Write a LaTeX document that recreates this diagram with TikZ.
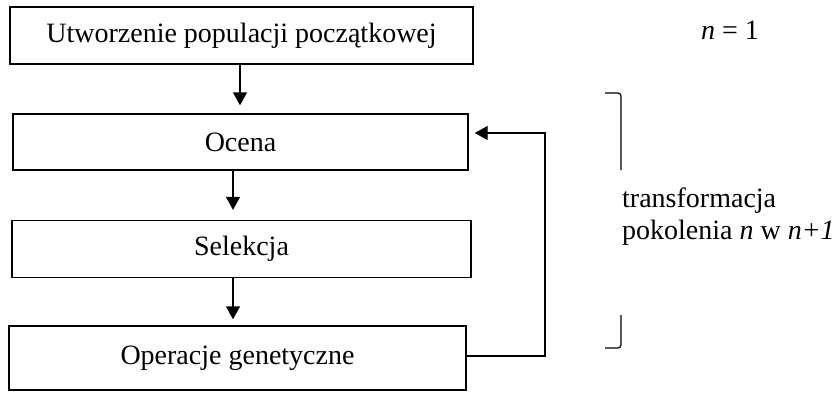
\documentclass[tikz,border=0pt]{standalone}
\usepackage{fontspec}
\setmainfont{Liberation Serif}
\usetikzlibrary{arrows.meta,calc}
\begin{document}
\begin{tikzpicture}[x=1pt,y=-1pt,
  box/.style={draw,line width=1.4pt,rectangle,inner sep=0pt,font=\fontsize{28}{34}\selectfont},
  flow/.style={line width=1.4pt,-{Triangle[length=13pt,width=14pt]}},
  lbl/.style={font=\fontsize{28}{34}\selectfont,inner sep=0pt}]
\useasboundingbox (0,0) rectangle (837,392);
\node[box,minimum width=463pt,minimum height=57pt] (b1) at (241.5,35.5) {Utworzenie populacji początkowej};
\node[box,minimum width=455pt,minimum height=56pt] (b2) at (240.5,142) {Ocena};
\node[box,minimum width=459pt,minimum height=57pt] (b3) at (241.5,249) {Selekcja};
\node[box,minimum width=457pt,minimum height=64pt] (b4) at (237.5,358) {Operacje genetyczne};
\coordinate (fb) at (545,133);
\coordinate (a2) at (233,171);
\coordinate (a3) at (233,277);
\draw[flow,shorten >=8pt] (b1.south -| 240,0) -- (b2.north -| 240,0);
\draw[flow,shorten >=10pt] (a2) -- (a2 |- b3.north);
\draw[flow,shorten >=6pt] (a3) -- (a3 |- b4.north);
\draw[flow,line width=1.2pt,shorten >=6pt] (b4.east |- 0,356) -| (fb) -- (fb -| b2.east);
\node[lbl,anchor=base] (n1) at (730,39) {\textit{n} = 1};
\coordinate (bt) at (621,93);
\coordinate (bb) at (621,348);
\draw[line width=1.2pt,rounded corners=3pt] (605,93) -- (bt) -- (621,170);
\draw[line width=1.2pt,rounded corners=3pt] (621,315) -- (bb) -- (605,348);
\node[lbl,anchor=base west] (t1) at (622,207) {transformacja};
\node[lbl,anchor=base west] (t2) at (622,239) {pokolenia \textit{n} w \textit{n+1}};
\end{tikzpicture}
\end{document}
